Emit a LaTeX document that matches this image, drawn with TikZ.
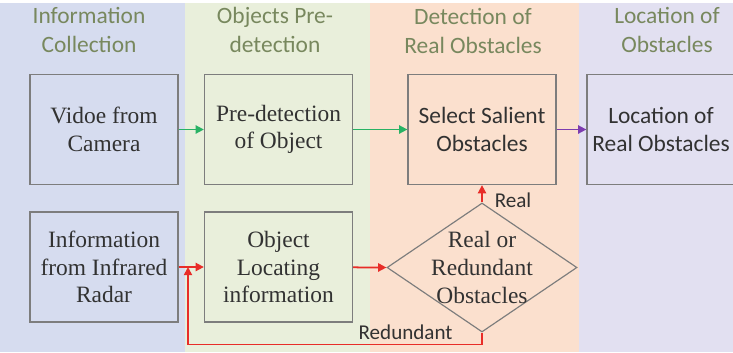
\documentclass[tikz,border=0pt]{standalone}
\usepackage{fontspec}
\setmainfont{Liberation Serif}
\newfontfamily\calibri{Carlito}
\usepackage{tikz}
\usetikzlibrary{arrows.meta,positioning,shapes.geometric}

\definecolor{bandA}{RGB}{214,220,239}
\definecolor{bandB}{RGB}{233,239,219}
\definecolor{bandC}{RGB}{251,224,206}
\definecolor{bandD}{RGB}{226,224,241}
\definecolor{headgreen}{RGB}{120,136,94}
\definecolor{boxgray}{RGB}{125,125,125}
\definecolor{txtgray}{RGB}{50,50,50}
\definecolor{arrgreen}{RGB}{40,178,100}
\definecolor{arrred}{RGB}{232,45,40}
\definecolor{arrpurple}{RGB}{125,60,175}

\begin{document}
\begin{tikzpicture}[
  x=0.03cm, y=-0.03cm,
  head/.style={align=center, text=headgreen,
    font=\calibri\fontsize{20}{24}\selectfont},
  box/.style={draw=boxgray, line width=1.1pt, minimum width=4.44cm,
    minimum height=3.3cm, align=center, text=txtgray,
    font=\fontsize{20}{23.5}\selectfont},
  sbox/.style={box, font=\calibri\fontsize{20}{24}\selectfont},
  dec/.style={draw=boxgray, line width=1pt, diamond,
    minimum width=5.7cm, minimum height=3.87cm, inner sep=0pt},
  dectxt/.style={align=center, text=txtgray,
    font=\fontsize{20}{23.5}\selectfont},
  lbl/.style={text=txtgray, font=\calibri\fontsize{18}{20}\selectfont},
  arr/.style={-{Triangle[length=7pt, width=7pt]}, line width=1.5pt},
  garr/.style={arr, draw=arrgreen},
  rarr/.style={arr, draw=arrred},
  parr/.style={arr, draw=arrpurple}
]
\clip (0,0) rectangle (733,352);
\fill[white] (0,0) rectangle (733,352);
%% ─── Column bands ───────────────────────────────────────────────────────────
\fill[bandA] (0,3)   rectangle (185,352);
\fill[bandB] (185,3) rectangle (370,352);
\fill[bandC] (370,3) rectangle (579,352);
\fill[bandD] (579,3) rectangle (733,352);
%% ─── Headers ────────────────────────────────────────────────────────────────
\node[head] (hcol) at (89,30)  {Information\\Collection};
\node[head] (hpre) at (275,30) {Objects Pre-\\detection};
\node[head] (hdet) at (473,31) {Detection of\\Real Obstacles};
\node[head] (hloc) at (667,30) {Location of\\Obstacles};
%% ─── Upper row ──────────────────────────────────────────────────────────────
\node[box]  (cam)  at (104,129.5) {Vidoe from\\Camera};
\node[box]  (pre)  at (278.5,129.5) {Pre-detection\\of Object};
\node[sbox] (sel)  at (482,129.5) {Select Salient\\Obstacles};
\node[sbox] (loc)  at (661,129.5) {Location of\\Real Obstacles};
%% ─── Lower row ──────────────────────────────────────────────────────────────
\node[box]  (rad)  at (104,267) {Information\\from Infrared\\Radar};
\node[box]  (oli)  at (278.5,267) {Object\\Locating\\information};
\node[dec]  (chk)  at (482,267.5) {};
\node[dectxt] (chktxt) at (chk.center) {Real or\\Redundant\\Obstacles};
\coordinate (fb) at (188,267);
%% ─── Arrows ─────────────────────────────────────────────────────────────────
\draw[garr] (cam) -- (pre);
\draw[garr] (pre) -- (sel);
\draw[parr] (sel) -- (loc);
\draw[rarr] (rad) -- (oli);
\draw[rarr] (oli) -- (chk.west);
\draw[rarr] (chk.north) -- node[lbl, pos=0.1, right=0.24cm]{Real} (sel.south);
\draw[rarr] (chk.south) -- ++(0,12) -| node[lbl, above, pos=0.13]{Redundant} (fb);
\end{tikzpicture}
\end{document}
